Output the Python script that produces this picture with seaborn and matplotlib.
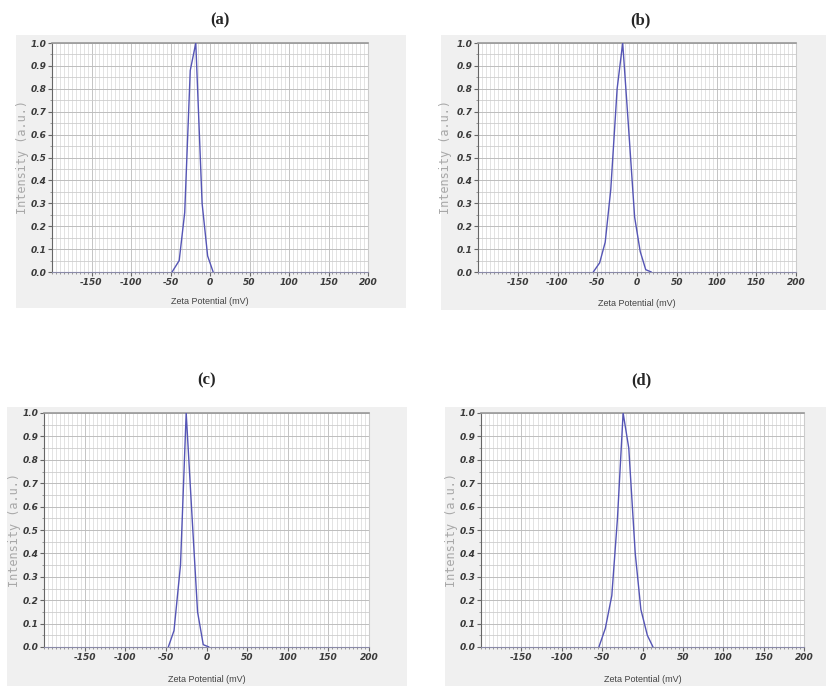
import numpy as np
import pandas as pd
import matplotlib
matplotlib.use("Agg")
import matplotlib.pyplot as plt
from matplotlib.patches import Rectangle
from matplotlib.ticker import MultipleLocator
import seaborn as sns

# zeta potential distributions
zeta_a = [-48, -39, -32, -25, -18, -10, -3, 4]
int_a = [0.0, 0.05, 0.26, 0.88, 1.0, 0.30, 0.07, 0.0]

zeta_b = [-55, -47, -40, -33, -25, -18, -11, -3, 4, 11, 18]
int_b = [0.0, 0.04, 0.13, 0.36, 0.80, 1.0, 0.65, 0.24, 0.09, 0.01, 0.0]

zeta_c = [-47, -40, -32, -25, -18, -11, -4, 3]
int_c = [0.0, 0.07, 0.35, 1.0, 0.57, 0.15, 0.01, 0.0]

zeta_d = [-54, -46, -38, -31, -24, -17, -9, -2, 6, 13]
int_d = [0.0, 0.08, 0.22, 0.55, 1.0, 0.85, 0.40, 0.16, 0.05, 0.0]

panel_labels = ["(a)", "(b)", "(c)", "(d)"]
xticks = [-150, -100, -50, 0, 50, 100, 150, 200]
yticks = [0.0, 0.1, 0.2, 0.3, 0.4, 0.5, 0.6, 0.7, 0.8, 0.9, 1.0]

sns.set_style("white")

W, H = 826, 686
fig = plt.figure(figsize=(W / 100, H / 100), dpi=100)

# pixel boxes: (left, right, top, bottom) for axes, grey frame, title pos, ylabel x, xlabel y
layout = [
    dict(ax=(52, 368, 43, 272), box=(16, 406, 35, 308), title=(220, 20), ylab=23, xlab=302),
    dict(ax=(478, 796, 43, 272), box=(441, 826, 35, 310), title=(640, 20), ylab=446, xlab=303),
    dict(ax=(44, 369, 413, 647), box=(7, 407, 407, 686), title=(207, 380), ylab=15, xlab=679),
    dict(ax=(481, 804, 413, 647), box=(445, 826, 407, 686), title=(641, 380), ylab=451, xlab=679),
]
series = [(zeta_a, int_a), (zeta_b, int_b), (zeta_c, int_c), (zeta_d, int_d)]

for lab, lay, (xs, ys) in zip(panel_labels, layout, series):
    bl, br, bt, bb = lay["box"]
    fig.patches.append(Rectangle((bl / W, 1 - bb / H), (br - bl) / W, (bb - bt) / H,
                                 transform=fig.transFigure, facecolor="#f0f0f0",
                                 edgecolor="none", zorder=-10))
    l, r, t, b = lay["ax"]
    ax = fig.add_axes([l / W, 1 - b / H, (r - l) / W, (b - t) / H])
    ax.set_zorder(1)
    ax.set_facecolor("white")
    df = pd.DataFrame({"zeta": xs, "intensity": ys})
    sns.lineplot(data=df, x="zeta", y="intensity", ax=ax, color="#5555b5", lw=1.0, zorder=5)
    ax.set_xlim(-200, 200)
    ax.set_ylim(0, 1.0)
    ax.set_xticks(xticks)
    ax.set_yticks(yticks)
    ax.xaxis.set_minor_locator(MultipleLocator(5))
    ax.yaxis.set_minor_locator(MultipleLocator(0.05))
    ax.grid(which="minor", axis="x", color="#dedede", lw=0.6)
    ax.grid(which="major", axis="x", color="#c4c4c4", lw=0.7)
    ax.grid(which="minor", axis="y", color="#cdcdcd", lw=0.6)
    ax.grid(which="major", axis="y", color="#bdbdbd", lw=0.7)
    ax.set_axisbelow(True)
    ax.set_xticklabels([str(v) for v in xticks])
    ax.set_yticklabels([f"{v:.1f}" for v in yticks])
    for tl in ax.get_xticklabels() + ax.get_yticklabels():
        tl.set_fontsize(6.5)
        tl.set_fontweight("bold")
        tl.set_fontstyle("italic")
        tl.set_color("#3a3a3a")
    ax.tick_params(axis="both", which="major", direction="out", length=3, width=0.8,
                   color="#666666", pad=1, bottom=True, left=True)
    ax.tick_params(axis="both", which="minor", direction="out", length=1.5, width=0.6,
                   color="#888888", bottom=True, left=True)
    ax.spines["left"].set_color("#666666")
    ax.spines["bottom"].set_color("#8a8aa8")
    ax.spines["bottom"].set_linestyle((0, (1, 1)))
    ax.spines["top"].set_color("#999999")
    ax.spines["top"].set_linewidth(1.2)
    ax.spines["right"].set_color("#cccccc")
    ax.set_xlabel("")
    ax.set_ylabel("")
    tx, ty = lay["title"]
    fig.text(tx / W, 1 - ty / H, lab, ha="center", va="center", fontsize=12,
             fontweight="bold", family="Liberation Serif", zorder=3)
    fig.text(lay["ylab"] / W, 1 - ((t + b) / 2) / H, "Intensity (a.u.)", rotation=90,
             ha="center", va="center", fontsize=8.5, color="#a8a8a8",
             family="DejaVu Sans Mono", zorder=3)
    fig.text(((l + r) / 2) / W, 1 - lay["xlab"] / H, "Zeta Potential (mV)", ha="center",
             va="center", fontsize=6.5, color="#444444", family="Liberation Sans", zorder=3)

fig.savefig("out.png", dpi=100, facecolor="white")
